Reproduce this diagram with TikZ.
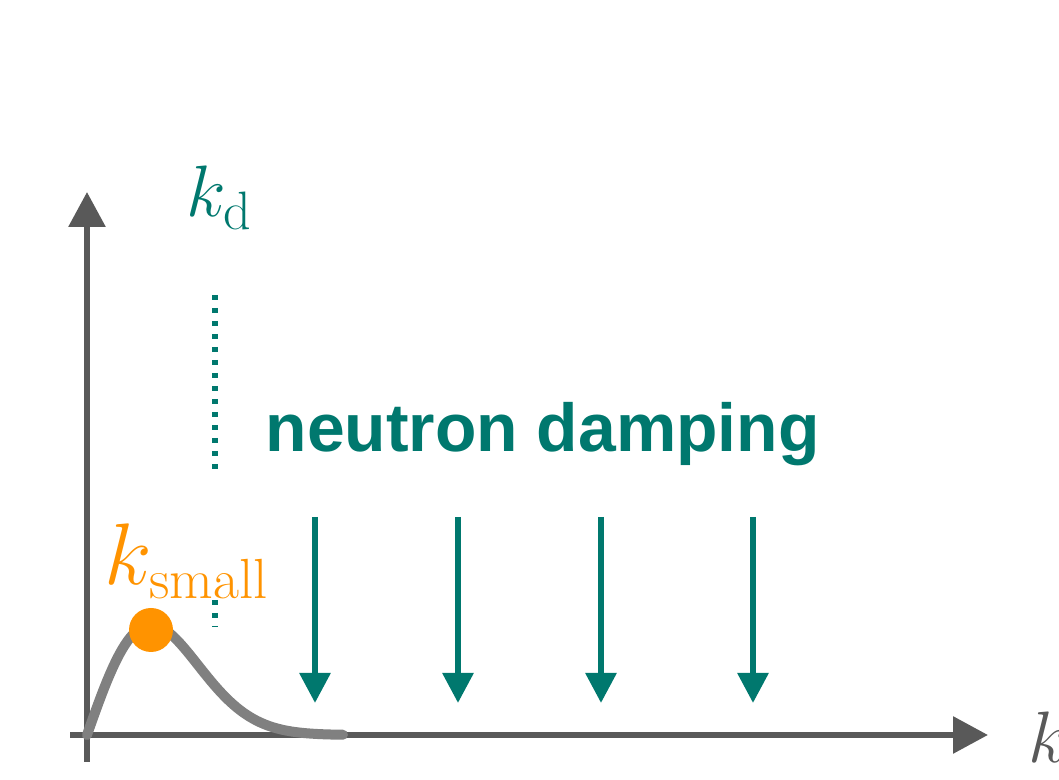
\documentclass[tikz,border=0pt]{standalone}
\usepackage{amsmath}
\usepackage{fontspec}
\usepackage{xcolor}
\usetikzlibrary{arrows.meta}
\newfontfamily\labelfont{Liberation Sans}

\definecolor{dampteal}{RGB}{0,120,110}
\definecolor{peakorange}{RGB}{255,147,0}
\definecolor{axisgray}{RGB}{89,89,89}
\definecolor{curvegray}{RGB}{128,128,128}

\begin{document}
\begin{tikzpicture}[
    axisline/.style={line width=0.06cm, axisgray, -{Triangle[width=0.36cm,length=0.35cm]}},
    damparrow/.style={line width=0.06cm, dampteal, -{Triangle[width=0.3cm,length=0.3cm]}},
    markline/.style={line width=0.055cm, dampteal, dash pattern=on 0.055cm off 0.075cm}
  ]
  \useasboundingbox (0,0) rectangle (10.59,7.80);

  % Axes
  \coordinate (O) at (0.87,0.45);
  \coordinate (ybot) at (0.87,0.18);
  \coordinate (ytop) at (0.87,5.88);
  \coordinate (xleft) at (0.70,0.45);
  \coordinate (xright) at (9.88,0.45);
  \draw[axisline] (ybot) -- (ytop);
  \draw[axisline] (xleft) -- (xright);
  \node[anchor=base west, inner sep=0, axisgray, font=\fontsize{22}{26}\selectfont] (kaxis) at (10.28,0.17) {$k$};

  % Spectrum
  \draw[curvegray, line width=0.1cm, line cap=round]
    plot[domain=0:4.0, samples=90] ({0.87+0.64*\x},{0.45+1.10*\x*exp((1-\x*\x)/2)});
  \fill[peakorange] (1.51,1.50) circle (0.22);
  \node[anchor=base west, inner sep=0, peakorange, font=\fontsize{23}{27}\selectfont] (ksmall) at (1.04,1.95) {$k_{\mathrm{small}}$};

  % Damping scale
  \node[anchor=base west, inner sep=0, dampteal, font=\fontsize{22}{26}\selectfont] (kd) at (1.86,5.63) {$k_{\mathrm{d}}$};
  \coordinate (dtop) at (2.15,4.85);
  \coordinate (dmid) at (2.15,3.08);
  \coordinate (dlow) at (2.15,1.80);
  \coordinate (dbot) at (2.15,1.53);
  \draw[markline] (dtop) -- (dmid);
  \draw[markline] (dlow) -- (dbot);

  % Neutron damping
  \node[anchor=base west, inner sep=0, dampteal, font=\labelfont\bfseries\fontsize{19.3}{23}\selectfont] (damp) at (2.65,3.28) {neutron damping};
  \draw[damparrow] (3.15,2.63) -- (3.15,0.77);
  \draw[damparrow] (4.58,2.63) -- (4.58,0.77);
  \draw[damparrow] (6.01,2.63) -- (6.01,0.77);
  \draw[damparrow] (7.53,2.63) -- (7.53,0.77);
\end{tikzpicture}
\end{document}
